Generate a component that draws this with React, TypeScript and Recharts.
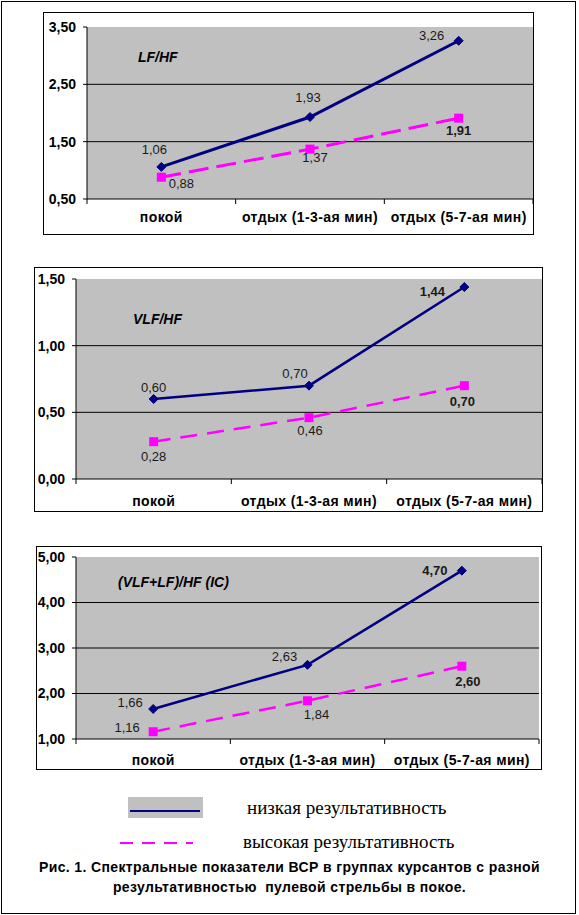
import React from "react";
import { LineChart, Line, XAxis, YAxis, CartesianGrid, LabelList } from "recharts";

const categories = ["покой", "отдых (1-3-ая мин)", "отдых (5-7-ая мин)"];

const lfhfLow = [1.06, 1.93, 3.26];
const lfhfHigh = [0.88, 1.37, 1.91];
const lfhfTicks = [0.5, 1.5, 2.5, 3.5];

const vlfhfLow = [0.6, 0.7, 1.44];
const vlfhfHigh = [0.28, 0.46, 0.7];
const vlfhfTicks = [0, 0.5, 1, 1.5];

const icLow = [1.66, 2.63, 4.7];
const icHigh = [1.16, 1.84, 2.6];
const icTicks = [1, 2, 3, 4, 5];

const seriesNames = ["низкая результативность", "высокая результативность"];
const caption = [
  "Рис. 1. Спектральные показатели ВСР в группах курсантов с разной",
  "результативностью  пулевой стрельбы в покое.",
];

const NAVY = "#000080";
const PINK = "#FF00FF";
const SANS = '"Liberation Sans", Arial, sans-serif';
const SERIF = '"Liberation Serif", "Times New Roman", serif';

const fmt = (v: number) => v.toFixed(2).replace(".", ",");

const panels = [
  {
    title: "LF/HF",
    low: lfhfLow,
    high: lfhfHigh,
    ticks: lfhfTicks,
    frame: { left: 43, top: 12, width: 491, height: 223 },
    plot: { top: 15, right: 1, yWidth: 44, xHeight: 36 },
    titlePos: { left: 95, cy: 45 },
    labelDy: 18,
    lineWidth: 3,
    dash: "20 8",
    lowOffsets: [[-7, -17], [-2, -20], [-27, -5]],
    highOffsets: [[20, 6], [5, 8], [0, 12]],
    lowBold: [false, false, false],
    highBold: [false, false, true],
  },
  {
    title: "VLF/HF",
    low: vlfhfLow,
    high: vlfhfHigh,
    ticks: vlfhfTicks,
    frame: { left: 34, top: 267, width: 509, height: 245 },
    plot: { top: 12, right: 1, yWidth: 42, xHeight: 33 },
    titlePos: { left: 99, cy: 52 },
    labelDy: 22,
    lineWidth: 2.5,
    dash: "17 10",
    lowOffsets: [[0, -12], [-14, -12], [-32, 4]],
    highOffsets: [[0, 15], [1, 13], [-2, 16]],
    lowBold: [false, false, true],
    highBold: [false, false, true],
  },
  {
    title: "(VLF+LF)/HF (IC)",
    low: icLow,
    high: icHigh,
    ticks: icTicks,
    frame: { left: 36, top: 546, width: 506, height: 224 },
    plot: { top: 11, right: 3, yWidth: 40, xHeight: 31 },
    titlePos: { left: 82, cy: 36 },
    labelDy: 21,
    lineWidth: 2.5,
    dash: "17 10",
    lowOffsets: [[-23, -6], [-23, -8], [-27, 0]],
    highOffsets: [[-26, -4], [9, 14], [6, 15]],
    lowBold: [false, false, true],
    highBold: [false, false, true],
  },
];

function makeLabel(offsets: number[][], bold: boolean[]) {
  return (props: any) => {
    const { x, y, value, index } = props;
    const [dx, dy] = offsets[index] || [0, 0];
    return (
      <text
        x={x + dx}
        y={y + dy}
        textAnchor="middle"
        dominantBaseline="central"
        fontFamily={SANS}
        fontSize={13}
        fontWeight={bold[index] ? "bold" : "normal"}
        fill="#1a1a1a"
      >
        {fmt(value)}
      </text>
    );
  };
}

function makeTick(labelDy: number, count: number) {
  return (props: any) => {
    const { x, y, payload, index } = props;
    const half = payload.offset || 0;
    return (
      <g>
        <line x1={x - half} y1={y} x2={x - half} y2={y + 5} stroke="#000" />
        {index === count - 1 && <line x1={x + half} y1={y} x2={x + half} y2={y + 5} stroke="#000" />}
        <text
          x={x}
          y={y + labelDy}
          textAnchor="middle"
          dominantBaseline="central"
          fontFamily={SANS}
          fontSize={14}
          letterSpacing={0.4}
          fontWeight="bold"
          fill="#000"
        >
          {payload.value}
        </text>
      </g>
    );
  };
}

const diamond = (p: any) => {
  const { cx, cy, index } = p;
  const r = 4.5;
  return (
    <polygon
      key={`d-${index}`}
      points={`${cx},${cy - r} ${cx + r},${cy} ${cx},${cy + r} ${cx - r},${cy}`}
      fill={NAVY}
      stroke={NAVY}
    />
  );
};

const square = (p: any) => {
  const { cx, cy, index } = p;
  const r = 4.5;
  return <rect key={`s-${index}`} x={cx - r} y={cy - r} width={r * 2} height={r * 2} fill={PINK} />;
};

function Panel({ cfg }: { cfg: (typeof panels)[number] }) {
  const data = categories.map((name, i) => ({ name, low: cfg.low[i], high: cfg.high[i] }));
  const { frame, plot } = cfg;
  return (
    <div style={{ position: "absolute", left: frame.left, top: frame.top, width: frame.width, height: frame.height }}>
      <LineChart
        width={frame.width}
        height={frame.height}
        data={data}
        margin={{ top: plot.top, right: plot.right, left: 0, bottom: 0 }}
      >
        <CartesianGrid
          fill="#c0c0c0"
          vertical={false}
          horizontalValues={cfg.ticks.slice(1, -1)}
          stroke="#000"
          strokeOpacity={1}
        />
        <XAxis
          dataKey="name"
          scale="band"
          height={plot.xHeight}
          axisLine={{ stroke: "#000" }}
          tickLine={false}
          tickSize={0}
          tickMargin={0}
          interval={0}
          tick={makeTick(cfg.labelDy, categories.length)}
        />
        <YAxis
          width={plot.yWidth}
          domain={[cfg.ticks[0], cfg.ticks[cfg.ticks.length - 1]]}
          ticks={cfg.ticks}
          interval={0}
          axisLine={{ stroke: "#000" }}
          tickLine={{ stroke: "#000" }}
          tickSize={4}
          tickMargin={7}
          tickFormatter={fmt}
          tick={{ fill: "#000", fontFamily: SANS, fontSize: 14, fontWeight: "bold" }}
        />
        <Line
          dataKey="low"
          stroke={NAVY}
          strokeWidth={cfg.lineWidth}
          dot={diamond}
          activeDot={false}
          isAnimationActive={false}
        >
          <LabelList dataKey="low" content={makeLabel(cfg.lowOffsets, cfg.lowBold)} />
        </Line>
        <Line
          dataKey="high"
          stroke={PINK}
          strokeWidth={cfg.lineWidth}
          strokeDasharray={cfg.dash}
          dot={square}
          activeDot={false}
          isAnimationActive={false}
        >
          <LabelList dataKey="high" content={makeLabel(cfg.highOffsets, cfg.highBold)} />
        </Line>
      </LineChart>
      <div
        style={{
          position: "absolute",
          left: cfg.titlePos.left,
          top: cfg.titlePos.cy - 9,
          lineHeight: "18px",
          fontFamily: SANS,
          fontSize: 14,
          fontWeight: "bold",
          fontStyle: "italic",
          whiteSpace: "nowrap",
        }}
      >
        {cfg.title}
      </div>
      <div
        style={{
          position: "absolute",
          inset: 0,
          border: "1px solid #000",
          pointerEvents: "none",
        }}
      />
    </div>
  );
}

export default function App() {
  return (
    <div style={{ position: "absolute", left: 0, top: 0, width: 579, height: 915, background: "#fff" }}>
      <div
        style={{
          position: "absolute",
          left: 1,
          top: 1,
          width: 575,
          height: 913,
          border: "1px solid #000",
          boxSizing: "border-box",
        }}
      />
      {panels.map((p) => (
        <Panel key={p.title} cfg={p} />
      ))}

      {/* legend */}
      <div style={{ position: "absolute", left: 128, top: 797, width: 75, height: 21, background: "#c0c0c0" }} />
      <svg style={{ position: "absolute", left: 0, top: 780 }} width={579} height={80}>
        <line x1={130} y1={31} x2={200} y2={31} stroke={NAVY} strokeWidth={2} />
        <line x1={120} y1={63} x2={193} y2={63} stroke={PINK} strokeWidth={2} strokeDasharray="13 9" />
      </svg>
      <div
        style={{
          position: "absolute",
          left: 247,
          top: 796,
          lineHeight: "24px",
          fontFamily: SERIF,
          fontSize: 19,
          whiteSpace: "nowrap",
        }}
      >
        {seriesNames[0]}
      </div>
      <div
        style={{
          position: "absolute",
          left: 243,
          top: 830,
          lineHeight: "24px",
          fontFamily: SERIF,
          fontSize: 19,
          whiteSpace: "nowrap",
        }}
      >
        {seriesNames[1]}
      </div>
      <div
        style={{
          position: "absolute",
          left: 0,
          width: 579,
          top: 857,
          textAlign: "center",
          fontFamily: SANS,
          fontSize: 14,
          fontWeight: "bold",
          letterSpacing: 0.37,
          lineHeight: "20px",
          whiteSpace: "pre",
        }}
      >
        {caption[0]}
        {"\n"}
        {caption[1]}
      </div>
    </div>
  );
}
